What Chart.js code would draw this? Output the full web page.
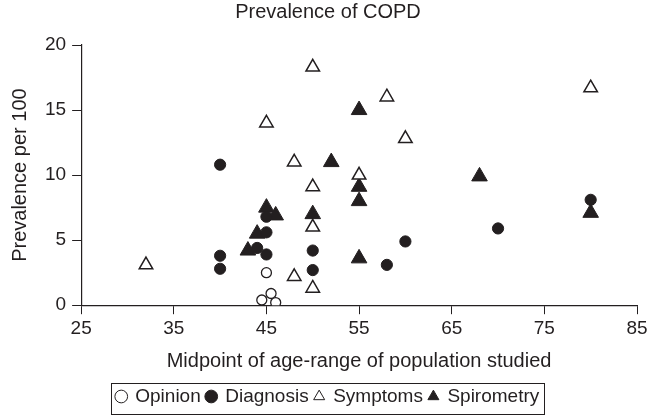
<!DOCTYPE html>
<html>
<head>
<meta charset="utf-8">
<script src="https://cdn.jsdelivr.net/npm/chart.js@4"></script>
<style>
  html, body { margin: 0; padding: 0; background: #fff; }
  #wrap { width: 648px; height: 416px; }
</style>
</head>
<body>
<div id="wrap"><canvas id="chartId"></canvas></div>
<script>
// data: [midpoint age, prevalence per 100]
const opinion = [[45, 2.5], [44.5, 0.4], [45.5, 0.9], [46, 0.2]];
const diagnosis = [
  [40, 10.8], [40, 3.8], [40, 2.8], [45, 6.8], [45, 5.6], [44, 4.4], [45, 3.9],
  [50, 4.2], [50, 2.7], [58, 3.1], [60, 4.9], [70, 5.9], [80, 8.1],
];
const symptoms = [
  [32, 3.1], [45, 14], [48, 11], [50, 18.3], [58, 16], [60, 12.8], [80, 16.7],
  [55, 10], [50, 9.1], [50, 6.0], [48, 2.2], [50, 1.3],
];
const spirometry = [
  [52, 11], [55, 15], [55, 9.1], [55, 8], [45, 7.5], [46, 6.9], [50, 7.0],
  [44, 5.5], [43, 4.2], [55, 3.6], [68, 9.9], [80, 7.1],
];
const xTicks = [25, 35, 45, 55, 65, 75, 85];
const yTicks = [0, 5, 10, 15, 20];

const toPts = (arr) => arr.map(([x, y]) => ({ x, y }));
const ink = "#231f20";
Chart.defaults.font.family = "'Liberation Sans', Arial, sans-serif";
Chart.defaults.color = ink;

// box round the legend, like the printed figure
const legendBox = {
  id: "legendBox",
  afterDraw(chart) {
    const boxes = chart.legend.legendHitBoxes;
    if (!boxes || !boxes.length) return;
    let l = Infinity, r = -Infinity, t = Infinity, b = -Infinity;
    boxes.forEach((h) => {
      l = Math.min(l, h.left); r = Math.max(r, h.left + h.width);
      t = Math.min(t, h.top); b = Math.max(b, h.top + h.height);
    });
    const c = chart.ctx;
    c.save();
    c.strokeStyle = ink;
    c.lineWidth = 1;
    c.strokeRect(Math.round(l - 6) + 0.5, Math.round(t - 4) + 0.5, Math.round(r - l + 10), Math.round(b - t + 12));
    c.restore();
  },
};

const ctx = document.getElementById("chartId");
new Chart(ctx, {
  type: "scatter",
  data: {
    datasets: [
      { label: "Opinion", data: toPts(opinion), pointStyle: "circle", pointRadius: 5,
        backgroundColor: "#fff", borderColor: ink, borderWidth: 1.3 },
      { label: "Diagnosis", data: toPts(diagnosis), pointStyle: "circle", pointRadius: 5.6,
        backgroundColor: ink, borderColor: ink, borderWidth: 1 },
      { label: "Symptoms", data: toPts(symptoms), pointStyle: "triangle", pointRadius: 7.8,
        backgroundColor: "#fff", borderColor: ink, borderWidth: 1.5 },
      { label: "Spirometry", data: toPts(spirometry), pointStyle: "triangle", pointRadius: 9,
        backgroundColor: ink, borderColor: ink, borderWidth: 1 },
    ],
  },
  options: {
    responsive: true,
    maintainAspectRatio: false,
    animation: false,
    layout: { padding: { top: 0, right: 0, left: 8, bottom: 0 } },
    plugins: {
      title: {
        display: true, text: "Prevalence of COPD", color: ink,
        font: { size: 20, weight: "normal" }, padding: { top: 0, bottom: 21 },
      },
      legend: {
        position: "bottom",
        labels: {
          usePointStyle: true, boxWidth: 9, boxHeight: 9, padding: 6,
          color: ink, font: { size: 19 },
          generateLabels(chart) {
            return chart.data.datasets.map((d, i) => ({
              text: d.label, datasetIndex: i, pointStyle: d.pointStyle,
              fillStyle: d.backgroundColor, strokeStyle: ink, lineWidth: 1, fontColor: ink,
            }));
          },
        },
      },
      tooltip: { enabled: false },
    },
    scales: {
      x: {
        type: "linear", min: 25, max: 85,
        afterBuildTicks: (ax) => { ax.ticks = xTicks.map((v) => ({ value: v })); },
        afterFit: (ax) => { ax.paddingRight = 11; },
        ticks: { color: ink, font: { size: 19 }, padding: 3 },
        grid: { display: true, drawOnChartArea: false, drawTicks: true, tickLength: 9, color: ink },
        border: { display: true, color: ink, width: 1.2 },
        title: { display: true, text: "Midpoint of age-range of population studied",
          color: ink, font: { size: 20 }, padding: { top: 6, bottom: 8 } },
      },
      y: {
        type: "linear", min: 0, max: 20,
        afterBuildTicks: (ax) => { ax.ticks = yTicks.map((v) => ({ value: v })); },
        ticks: { color: ink, font: { size: 19 }, padding: 6 },
        grid: { display: true, drawOnChartArea: false, drawTicks: true, tickLength: 9, color: ink },
        border: { display: true, color: ink, width: 1.2 },
        title: { display: true, text: "Prevalence per 100", color: ink,
          font: { size: 20 }, padding: { top: 0, bottom: 7 } },
      },
    },
  },
  plugins: [legendBox],
});
</script>
</body>
</html>
